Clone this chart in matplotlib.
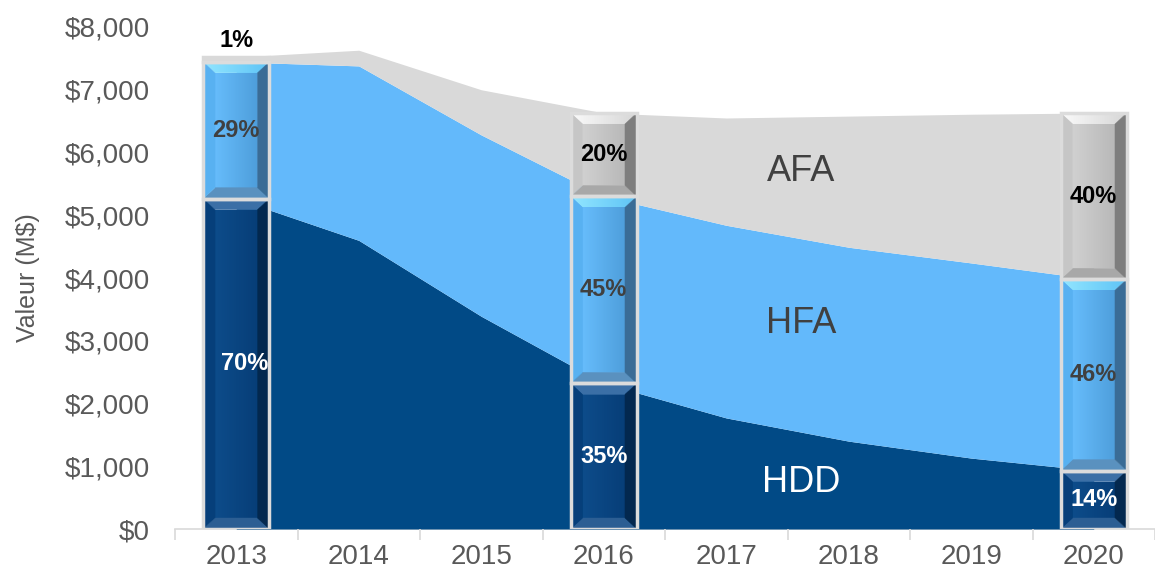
import numpy as np
import matplotlib
matplotlib.use("Agg")
import matplotlib.pyplot as plt
from matplotlib.patches import Polygon, Rectangle
from matplotlib.colors import LinearSegmentedColormap

plt.rcParams['font.family'] = ['Liberation Sans', 'DejaVu Sans']

# ---- data ----
years = ["2013", "2014", "2015", "2016", "2017", "2018", "2019", "2020"]
hdd = [5264, 4600, 3390, 2320, 1770, 1400, 1130, 930]
hfa = [2180, 2780, 2890, 2980, 3070, 3090, 3110, 3050]
afa = [76, 250, 720, 1330, 1710, 2090, 2370, 2650]
series_names = ["HDD", "HFA", "AFA"]
bar_years = ["2013", "2016", "2020"]
bar_pcts = {"2013": ["70%", "29%", "1%"],
            "2016": ["35%", "45%", "20%"],
            "2020": ["14%", "46%", "40%"]}
yticks = [0, 1000, 2000, 3000, 4000, 5000, 6000, 7000, 8000]
ytick_labels = ["$0", "$1,000", "$2,000", "$3,000", "$4,000", "$5,000", "$6,000", "$7,000", "$8,000"]

area_colors = ["#014A86", "#63B9FB", "#D9D9D9"]

W, H = 1155, 574
fig = plt.figure(figsize=(W / 100, H / 100), dpi=100)
ax = fig.add_axes([175 / W, 1 - 529 / H, (W - 175) / W, (529 - 27) / H])
XMIN, XMAX = -0.5, -0.5 + (W - 175) / 124.0
YMIN, YMAX = 0, 8000

x = np.arange(len(years))
levels = [np.zeros(len(years))]
for s in (hdd, hfa, afa):
    levels.append(levels[-1] + np.array(s, dtype=float))
for i in range(3):
    ax.fill_between(x, levels[i], levels[i + 1], color=area_colors[i], lw=0, zorder=1)

ax_w_px = W - 175
ax_h_px = 529 - 27
px_x = (XMAX - XMIN) / ax_w_px
px_y = (YMAX - YMIN) / ax_h_px

bevel = {
    0: dict(center=("#0D4C8A", "#073E78"), top="#3B6FA6", left="#063F7A", right="#03284F", bottom="#2C5E93", text="white"),
    1: dict(center=("#66BCFB", "#4E9EDB"), top=("#92E6FF", "#5EC3F6"), left="#58B1F1", right="#3A6C96", bottom="#5A91BF", text="#404040"),
    2: dict(center=("#D0D0D0", "#B8B8B8"), top=("#FAFAFA", "#D6D6D6"), left="#C6C6C6", right="#7E7E7E", bottom="#A8A8A8", text="black"),
}


def grad_poly(pts, c1, c2, z, horizontal=True):
    poly = Polygon(pts, closed=True, facecolor="none", edgecolor="none", zorder=z)
    ax.add_patch(poly)
    xs = [p[0] for p in pts]
    ys = [p[1] for p in pts]
    cmap = LinearSegmentedColormap.from_list("g", [c1, c2])
    g = np.linspace(0, 1, 64)
    img = g[None, :] if horizontal else g[:, None]
    im = ax.imshow(img, cmap=cmap, extent=[min(xs), max(xs), min(ys), max(ys)],
                   origin="lower", aspect="auto", zorder=z, interpolation="bilinear")
    im.set_clip_path(poly)


def solid_poly(pts, c, z):
    ax.add_patch(Polygon(pts, closed=True, facecolor=c, edgecolor=c, lw=0.3, zorder=z))


bw = 0.54
ix = 12 * px_x
iy = 11 * px_y
for yr in bar_years:
    i = years.index(yr)
    xc = x[i]
    x0, x1 = xc - bw / 2, xc + bw / 2
    for k in range(3):
        y0, y1 = levels[k][i], levels[k + 1][i]
        st = bevel[k]
        if (y1 - y0) < 3 * iy:
            ax.add_patch(Rectangle((x0, y0), bw, y1 - y0, facecolor=area_colors[k],
                                   edgecolor="#D9D9D9", lw=2.5, zorder=5))
            ax.text(xc, y1 + 5 * px_y, bar_pcts[yr][k], ha="center", va="bottom",
                    fontsize=17, fontweight="bold", color="black", zorder=8)
            continue
        grad_poly([(x0 + ix, y0 + iy), (x1 - ix, y0 + iy), (x1 - ix, y1 - iy), (x0 + ix, y1 - iy)],
                  st["center"][0], st["center"][1], 4)
        top_pts = [(x0, y1), (x1, y1), (x1 - ix, y1 - iy), (x0 + ix, y1 - iy)]
        if isinstance(st["top"], tuple):
            grad_poly(top_pts, st["top"][0], st["top"][1], 4)
        else:
            solid_poly(top_pts, st["top"], 4)
        solid_poly([(x0, y0), (x1, y0), (x1 - ix, y0 + iy), (x0 + ix, y0 + iy)], st["bottom"], 4)
        solid_poly([(x0, y0), (x0 + ix, y0 + iy), (x0 + ix, y1 - iy), (x0, y1)], st["left"], 4)
        solid_poly([(x1, y0), (x1, y1), (x1 - ix, y1 - iy), (x1 - ix, y0 + iy)], st["right"], 4)
        ax.add_patch(Rectangle((x0, y0), bw, y1 - y0, facecolor="none",
                               edgecolor="#DCDCDC", lw=2.5, zorder=6))
        dx = 0.07 if (yr == "2013" and k == 0) else 0
        ax.text(xc + dx, (y0 + y1) / 2, bar_pcts[yr][k], ha="center", va="center",
                fontsize=17, fontweight="bold", color=st["text"], zorder=8)

# series labels
ax.text(4.61, 5546, "AFA", ha="center", va="baseline", fontsize=26, color="#404040", zorder=3)
ax.text(4.61, 3124, "HFA", ha="center", va="baseline", fontsize=26, color="#404040", zorder=3)
ax.text(4.61, 590, "HDD", ha="center", va="baseline", fontsize=26, color="white", zorder=3)

ax.set_xlim(XMIN, XMAX)
ax.set_ylim(YMIN, YMAX)
ax.set_xticks(x)
ax.set_xticklabels(years)
ax.set_xticks(np.arange(-0.5, 8, 1.0), minor=True)
ax.tick_params(axis="x", which="major", length=0, labelsize=20, labelcolor="#595959", pad=11)
ax.tick_params(axis="x", which="minor", length=8, color="#D9D9D9", width=1.2)
ax.set_yticks(yticks)
ax.set_yticklabels(ytick_labels)
ax.tick_params(axis="y", length=0, labelsize=20, labelcolor="#595959", pad=18)
for s in ("left", "right", "top"):
    ax.spines[s].set_visible(False)
ax.spines["bottom"].set_color("#D9D9D9")
ax.spines["bottom"].set_linewidth(1.2)
ax.spines["bottom"].set_zorder(0)
ax.set_ylabel("Valeur (M$)", fontsize=18, color="#595959", labelpad=18)
ax.set_facecolor("none")

fig.savefig("out.png", dpi=100)
